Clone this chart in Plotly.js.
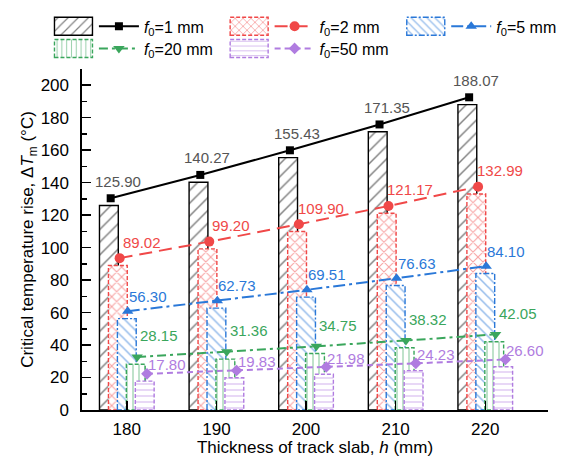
<!DOCTYPE html>
<html><head><meta charset="utf-8">
<script src="https://cdn.plot.ly/plotly-3.0.1.min.js"></script>
<style>
html,body{margin:0;padding:0;background:#fff;}
#chart{width:571px;height:457px;}
#chart g.legendpoints path:not(.scatterpts){ d: path("M-5,9H33V-9H-5Z") !important; stroke-width:1.4px !important; }
</style></head><body><div id="chart"></div>
<script>
// ---- data ----
const thickness = [180, 190, 200, 210, 220];
const f1 = [125.90, 140.27, 155.43, 171.35, 188.07];
const f2 = [89.02, 99.20, 109.90, 121.17, 132.99];
const f5 = [56.30, 62.73, 69.51, 76.63, 84.10];
const f20 = [28.15, 31.36, 34.75, 38.32, 42.05];
const f50 = [17.80, 19.83, 21.98, 24.23, 26.60];
const seriesLabels = ['<i>f</i><sub>0</sub>=1 mm', '<i>f</i><sub>0</sub>=2 mm', '<i>f</i><sub>0</sub>=5 mm',
                      '<i>f</i><sub>0</sub>=20 mm', '<i>f</i><sub>0</sub>=50 mm'];
const seriesValues = [f1, f2, f5, f20, f50];

// ---- styles ----
const colors = ['#000000', '#f04848', '#2a78d8', '#3aa65c', '#b07ce0'];
const labelColors = ['#555555', '#f04848', '#2a78d8', '#3aa65c', '#b07ce0'];
const patterns = ['/', 'x', '\\', '|', '-'];
const patSizes = [9, 7, 7, 6, 6];
const patSolid = [0.16, 0.28, 0.22, 0.22, 0.2];
const barCenter = [-2.0, -1.0, 0.0, 1.0, 2.0];
const barWidth = 2.1;
const markerOff = [-1.8, -0.8, 0.1, 1.15, 2.25];
const symbols = ['square', 'circle', 'triangle-up', 'triangle-down', 'diamond'];
const mSizes = [8, 10, 10, 10, 9];
const lineDash = ['solid', '13px,7px', '12px,4px,3px,4px', '9px,4px,3px,4px', '6px,4px'];
const barDash = ['none', '4 2', '6 2 2 2', '4 2', '4 2'];
const labShift = [[7, 17], [22, 16], [20, 15], [22, 21], [20, 9]];
const legIds = ['legend', 'legend2', 'legend3', 'legend4', 'legend5'];
const legPos = [[-0.102, 1.125], [0.275, 1.125], [0.654, 1.125], [-0.102, 1.06], [0.275, 1.06]];

const traces = [];
seriesValues.forEach((vals, i) => {
  traces.push({
    type: 'bar', x: thickness, y: vals, name: ' ',
    width: barWidth, offset: barCenter[i] - barWidth / 2,
    marker: {color: '#ffffff', line: {color: colors[i], width: 1.4},
             pattern: {shape: patterns[i], fgcolor: colors[i], size: patSizes[i], solidity: patSolid[i], fillmode: 'overlay'}},
    legend: legIds[i], hoverinfo: 'skip'
  });
});
seriesValues.forEach((vals, i) => {
  traces.push({
    type: 'scatter', mode: 'lines+markers', x: thickness.map(v => v + markerOff[i]), y: vals,
    yaxis: 'y2', name: seriesLabels[i],
    line: {color: colors[i], width: 2, dash: lineDash[i]},
    marker: {symbol: symbols[i], size: mSizes[i], color: colors[i]},
    legend: legIds[i], hoverinfo: 'skip'
  });
});

const annotations = [];
seriesValues.forEach((vals, i) => {
  vals.forEach((v, j) => {
    annotations.push({
      x: thickness[j] + markerOff[i], y: v, xref: 'x', yref: 'y2',
      text: v.toFixed(2), showarrow: false, xshift: labShift[i][0], yshift: labShift[i][1],
      font: {size: 15, color: labelColors[i], family: 'Liberation Sans, Arial, sans-serif'}
    });
  });
});

const font = {family: 'Liberation Sans, Arial, sans-serif', size: 17, color: '#000'};
const layout = {
  width: 571, height: 457,
  margin: {l: 82, r: 9, t: 65, b: 47},
  paper_bgcolor: '#fff', plot_bgcolor: '#fff',
  font: font,
  barmode: 'overlay',
  showlegend: true,
  xaxis: {range: [175, 227], tickvals: thickness, ticktext: thickness.map(String),
          showline: true, linecolor: '#000', linewidth: 1.6, ticks: 'inside', ticklen: 9, tickwidth: 1.5,
          tickcolor: '#000', showgrid: false, zeroline: false, automargin: false,
          tickfont: {size: 17}, ticklabelstandoff: 3,
          title: {text: 'Thickness of track slab, <i>h</i> (mm)', font: {size: 17}, standoff: 8}},
  yaxis: {range: [0, 210], dtick: 20, tick0: 0, showline: true, linecolor: '#000', linewidth: 1.6,
          ticks: 'inside', ticklen: 9, tickwidth: 1.5, tickcolor: '#000',
          minor: {ticks: 'inside', ticklen: 5, dtick: 10, tickwidth: 1.5, tickcolor: '#000'},
          showgrid: false, zeroline: false, automargin: false, tickfont: {size: 17}, ticklabelstandoff: 8,
          title: {text: 'Critical temperature rise, Δ<i>T</i><sub>m</sub> (°C)', font: {size: 17}, standoff: 2}},
  yaxis2: {overlaying: 'y', range: [-4.5, 205.5], visible: false, showgrid: false, zeroline: false},
  annotations: annotations
};
legIds.forEach((id, k) => {
  layout[id] = {orientation: 'h', x: legPos[k][0], y: legPos[k][1], xanchor: 'left', yanchor: 'middle',
                bgcolor: 'rgba(0,0,0,0)', font: {size: 16, family: 'Liberation Sans, Arial, sans-serif'},
                itemwidth: 40, traceorder: 'normal', itemclick: false, itemdoubleclick: false};
});

const gd = document.getElementById('chart');
function fix() {
  const bars = gd.querySelectorAll('.barlayer .trace.bars');
  bars.forEach((t, k) => {
    t.querySelectorAll('path').forEach(p => { p.style.strokeDasharray = barDash[k]; });
  });
  const legBars = gd.querySelectorAll('g.legendpoints path:not(.scatterpts)');
  legBars.forEach((p, k) => {
    p.setAttribute('d', 'M-5,9H33V-9H-5Z');
    p.style.strokeDasharray = barDash[k] || 'none';
    p.style.strokeWidth = '1.4px';
  });
}
Plotly.newPlot(gd, traces, layout, {staticPlot: true, displayModeBar: false}).then(() => {
  fix();
  gd.on('plotly_afterplot', fix);
  setTimeout(fix, 50);
});
</script></body></html>
